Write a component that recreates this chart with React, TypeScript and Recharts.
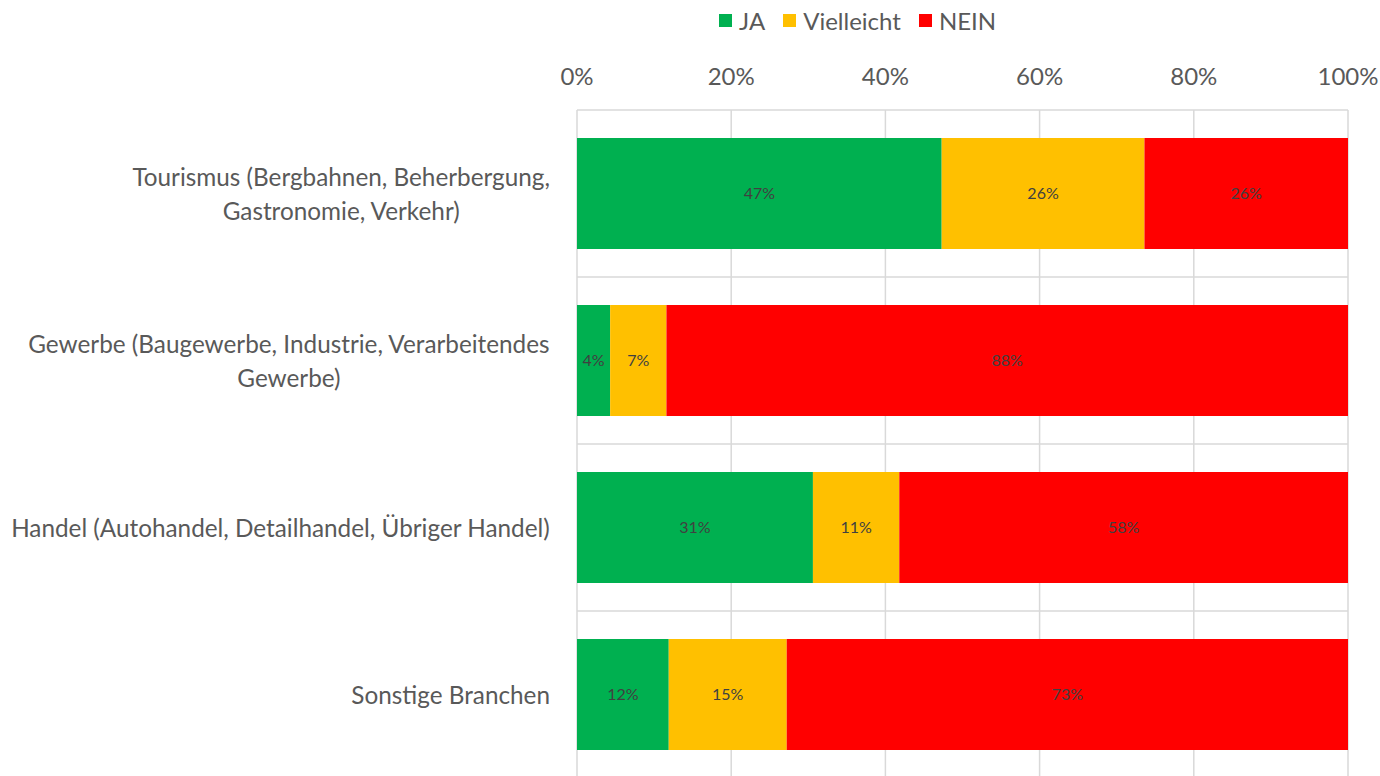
import { BarChart, Bar, XAxis, YAxis, CartesianGrid, Legend, LabelList } from 'recharts';

const categories = [
    'Tourismus (Bergbahnen, Beherbergung, Gastronomie, Verkehr)',
    'Gewerbe (Baugewerbe, Industrie, Verarbeitendes Gewerbe)',
    'Handel (Autohandel, Detailhandel, Übriger Handel)',
    'Sonstige Branchen',
];

const tickLines = [
    ['Tourismus (Bergbahnen, Beherbergung,', 'Gastronomie, Verkehr)'],
    ['Gewerbe (Baugewerbe, Industrie, Verarbeitendes', 'Gewerbe)'],
    ['Handel (Autohandel, Detailhandel, Übriger Handel)'],
    ['Sonstige Branchen'],
];

const ja = [47.3, 4.3, 30.6, 11.9];
const vielleicht = [26.3, 7.3, 11.2, 15.3];
const nein = [26.4, 88.4, 58.2, 72.8];

const xTicks = [0, 20, 40, 60, 80, 100];

const seriesNames = ['JA', 'Vielleicht', 'NEIN'];
const seriesColors = ['#00B050', '#FFC000', '#FF0000'];

const data = categories.map((name, i) => ({
    name,
    ja: ja[i],
    vielleicht: vielleicht[i],
    nein: nein[i],
}));

const FONT = 'Lato, "Open Sans", sans-serif';
const TEXT = '#595959';
const GRID = '#D9D9D9';

let canvasCtx: CanvasRenderingContext2D | null = null;
function measure(text: string, size: number) {
    if (!canvasCtx) canvasCtx = document.createElement('canvas').getContext('2d');
    if (!canvasCtx) return text.length * size * 0.5;
    canvasCtx.font = `${size}px Lato`;
    return canvasCtx.measureText(text).width;
}

function CategoryTick(props: any) {
    const { x, y, index } = props;
    const lines = tickLines[index] || [String(props.payload?.value ?? '')];
    const size = 24.3;
    const lineHeight = 34;
    const blockWidth = Math.max(...lines.map((l) => measure(l, size)));
    const cx = x - 25 - blockWidth / 2;
    const startY = y - 1 - ((lines.length - 1) * lineHeight) / 2;
    return (
        <text fill={TEXT} fontSize={size} fontFamily={FONT} textAnchor="middle" dominantBaseline="central">
            {lines.map((l, i) => (
                <tspan key={i} x={cx} y={startY + i * lineHeight}>
                    {l}
                </tspan>
            ))}
        </text>
    );
}

function LegendContent() {
    return (
        <div style={{ height: 40, display: 'flex', alignItems: 'center', paddingLeft: 719, fontFamily: FONT, fontSize: 24, color: TEXT }}>
            {seriesNames.map((n, i) => (
                <div key={n} style={{ display: 'flex', alignItems: 'center', marginRight: 18 }}>
                    <span style={{ width: 13, height: 13, background: seriesColors[i], display: 'inline-block', marginRight: 7 }} />
                    <span>{n}</span>
                </div>
            ))}
        </div>
    );
}

export default function App() {
    const labelProps = {
        position: 'center' as const,
        fill: '#404040',
        fontSize: 16,
        fontFamily: FONT,
        formatter: (v: any) => `${Math.round(Number(v))}%`,
    };
    return (
        <div style={{ position: 'absolute', left: 0, top: 0, background: '#fff' }}>
            <BarChart
                width={1380}
                height={778}
                data={data}
                layout="vertical"
                margin={{ top: 0, right: 32, bottom: 0, left: 0 }}
                barSize={111}
            >
                <Legend verticalAlign="top" align="left" content={<LegendContent />} />
                <CartesianGrid
                    stroke={GRID}
                    strokeWidth={1.5}
                    horizontalCoordinatesGenerator={({ offset }: any) =>
                        [0, 1, 2, 3, 4].map((i) => offset.top + (i * offset.height) / 4)
                    }
                />
                <XAxis
                    type="number"
                    orientation="top"
                    domain={[0, 100]}
                    ticks={xTicks}
                    tickFormatter={(v) => `${v}%`}
                    axisLine={false}
                    tickLine={false}
                    tickSize={0}
                    tickMargin={25}
                    height={70}
                    tick={{ fill: TEXT, fontSize: 24, fontFamily: FONT }}
                    interval={0}
                />
                <YAxis
                    type="category"
                    dataKey="name"
                    width={577}
                    axisLine={false}
                    tickLine={false}
                    tickSize={0}
                    tick={<CategoryTick />}
                    interval={0}
                />
                <Bar dataKey="ja" name={seriesNames[0]} stackId="a" fill={seriesColors[0]} isAnimationActive={false}>
                    <LabelList dataKey="ja" {...labelProps} />
                </Bar>
                <Bar dataKey="vielleicht" name={seriesNames[1]} stackId="a" fill={seriesColors[1]} isAnimationActive={false}>
                    <LabelList dataKey="vielleicht" {...labelProps} />
                </Bar>
                <Bar dataKey="nein" name={seriesNames[2]} stackId="a" fill={seriesColors[2]} isAnimationActive={false}>
                    <LabelList dataKey="nein" {...labelProps} />
                </Bar>
            </BarChart>
        </div>
    );
}
